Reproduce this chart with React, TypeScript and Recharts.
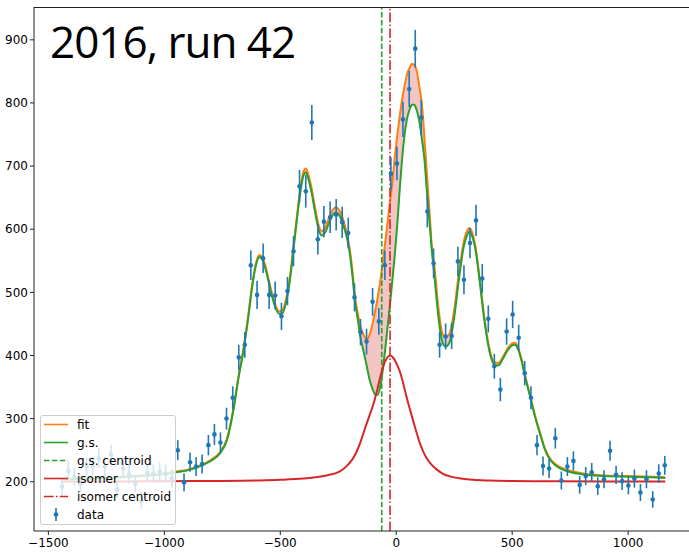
import {
  ComposedChart,
  XAxis,
  YAxis,
  Line,
  Area,
  Scatter,
  ErrorBar,
} from "recharts";

// sampled curve positions (fit and g.s. share them)
const curveX = [
  -1445, -1300, -1200, -1100, -1000, -950, -900, -850, -800, -760,
  -730, -700, -680, -660, -640, -620, -605, -590, -575, -560,
  -545, -525, -505, -490, -475, -460, -445, -430, -415, -400,
  -390, -380, -365, -350, -335, -322, -305, -290, -275, -260,
  -245, -230, -215, -202, -190, -179, -165, -154, -140, -127,
  -115, -101, -90, -79, -68, -57, -46, -29, -15, -7,
  5, 15, 25, 36, 47, 58, 68, 78, 87, 100,
  108, 116, 123, 130, 137, 145, 152, 165, 180, 200,
  214, 230, 250, 270, 290, 305, 317, 330, 345, 360,
  380, 400, 420, 440, 460, 480, 500, 512, 525, 540,
  555, 577, 600, 620, 642, 665, 690, 735, 800, 900,
  1000, 1100, 1160,
];

const gsY = [
  204, 205, 206.5, 209, 212, 215, 218, 224, 233, 245,
  266, 318, 365, 405, 455, 512, 543, 556, 550, 532,
  508, 480, 466, 467, 484, 515, 562, 610, 655, 685,
  690, 681, 658, 627, 600, 590, 596, 610, 622, 627,
  622, 608, 590, 566, 530, 490, 455, 428, 405, 383,
  362, 346, 338, 338, 352, 380, 415, 474, 525, 556,
  610, 663, 710, 750, 776, 790, 797, 797, 790, 770,
  750, 728, 705, 670, 638, 605, 572, 525, 467, 420,
  414, 421, 460, 520, 570, 590, 596, 586, 560, 517,
  456, 410, 387, 384, 395, 408, 416, 417, 410, 392,
  367, 335, 301, 276, 250, 234, 225, 217, 212, 209,
  208, 207, 206,
];

const fitY = [
  204.5, 205.5, 207, 210, 213, 216, 219, 225.5, 234.5, 247,
  268, 320, 367, 408, 458, 515, 546, 559, 554, 536,
  512, 484, 470, 472, 489, 520, 567, 615, 661, 691,
  696, 688, 665, 634, 607, 597, 604, 618, 630, 635,
  630, 617, 597, 572, 538, 496, 465, 446, 432, 425,
  433, 452, 472, 494, 520, 552, 584, 637, 680, 711,
  750, 779, 805, 827, 846, 856, 862, 860, 853, 825,
  806, 775, 737, 700, 663, 620, 580, 540, 482, 434,
  429, 435, 472, 530, 578, 597, 602, 592, 565, 521,
  460, 414, 391, 388, 398, 411, 419, 420, 413, 395,
  370, 337, 303, 278, 252, 236, 227, 219, 213.5, 210,
  209, 208, 207,
];

const isoX = [
  -1445, -1200, -1000, -800, -600, -500, -400, -350, -300, -245,
  -216, -190, -173, -155, -137, -120, -101, -85, -72, -55,
  -40, -26, -10, 5, 15, 30, 44, 58, 72, 86,
  101, 115, 130, 150, 173, 200, 231, 280, 332, 400,
  500, 700, 900, 1160,
];

const isoY = [
  200.3, 200.5, 200.8, 201.2, 202, 203, 205, 207, 210, 216,
  224, 235, 246, 262, 282, 300, 320, 341, 361, 384,
  396, 400, 395, 384, 375, 356, 335, 316, 298, 280,
  262, 249, 238, 228, 220, 213, 208.5, 205, 203, 202,
  201.3, 200.8, 200.5, 200.4,
];

const dataX = [
  -1441, -1414, -1388, -1362, -1335, -1309, -1283, -1257, -1230, -1204,
  -1178, -1152, -1125, -1099, -1073, -1047, -1020, -994, -968, -942,
  -915, -889, -863, -837, -810, -784, -758, -732, -705, -679,
  -653, -627, -600, -574, -548, -522, -495, -469, -443, -417,
  -390, -364, -338, -312, -285, -259, -233, -207, -180, -154,
  -128, -102, -75, -49, -23, 3, 29, 56, 82, 108,
  134, 161, 187, 213, 239, 266, 292, 318, 344, 371,
  397, 423, 449, 476, 502, 528, 554, 581, 607, 633,
  659, 686, 712, 738, 764, 791, 817, 843, 869, 896,
  922, 948, 974, 1001, 1027, 1053, 1079, 1106, 1132, 1158,
];

const dataY = [
  192, 217, 208, 197, 224, 224, 237, 224, 243, 188,
  221, 212, 197, 170, 214, 213, 216, 213, 205, 250,
  199, 231, 224, 228, 258, 275, 262, 300, 333, 397,
  417, 543, 496, 554, 496, 495, 462, 502, 565, 668,
  660, 769, 584, 612, 619, 623, 611, 594, 492, 437,
  422, 485, 454, 543, 688, 704, 774, 822, 886, 777,
  628, 546, 417, 430, 431, 549, 520, 578, 614, 522,
  458, 383, 346, 438, 465, 428, 372, 333, 258, 225,
  221, 269, 202, 224, 233, 195, 209, 215, 193, 204,
  249, 211, 201, 194, 205, 183, 204, 172, 213, 226,
];

const dataErr = [
  13.9, 14.7, 14.4, 14.0, 15.0, 15.0, 15.4, 15.0, 15.6, 13.7,
  14.9, 14.6, 14.0, 13.0, 14.6, 14.6, 14.7, 14.6, 14.3, 15.8,
  14.1, 15.2, 15.0, 15.1, 16.1, 16.6, 16.2, 17.3, 18.2, 19.9,
  20.4, 23.3, 22.3, 23.5, 22.3, 22.2, 21.5, 22.4, 23.8, 25.8,
  25.7, 27.7, 24.2, 24.7, 24.9, 25.0, 24.7, 24.4, 22.2, 20.9,
  20.5, 22.0, 21.3, 23.3, 26.2, 26.5, 27.8, 28.7, 29.8, 27.9,
  25.1, 23.4, 20.4, 20.7, 20.8, 23.4, 22.8, 24.0, 24.8, 22.8,
  21.4, 19.6, 18.6, 20.9, 21.6, 20.7, 19.3, 18.2, 16.1, 15.0,
  14.9, 16.4, 14.2, 15.0, 15.3, 14.0, 14.5, 14.7, 13.9, 14.3,
  15.8, 14.5, 14.2, 13.9, 14.3, 13.5, 14.3, 13.1, 14.6, 15.0,
];

const gsCentroid = -62.5;
const isoCentroid = -26.7;

const xTicks = [-1500, -1000, -500, 0, 500, 1000];
const yTicks = [200, 300, 400, 500, 600, 700, 800, 900];
const X_DOMAIN: [number, number] = [-1562, 1353];
const Y_DOMAIN: [number, number] = [122, 952];

const C_FIT = "#ff7f0e";
const C_GS = "#2ca02c";
const C_ISO = "#d62728";
const C_DATA = "#1f77b4";

const fmt = (v: number) => (v < 0 ? `\u2212${Math.abs(v)}` : `${v}`);
const tickStyle = { fontFamily: "DejaVu Sans", fontSize: 12, fill: "#000" };

const gsData = curveX.map((x, i) => ({ x, y: gsY[i] }));
const fitData = curveX.map((x, i) => ({ x, y: fitY[i] }));
const fillData = curveX.map((x, i) => ({ x, r: [gsY[i], fitY[i]] }));
const isoData = isoX.map((x, i) => ({ x, y: isoY[i] }));
const points = dataX.map((x, i) => ({ x, y: dataY[i], err: dataErr[i] }));
// axvline-style centroid markers, spanning the whole y range
const gsLine = Y_DOMAIN.map((y) => ({ x: gsCentroid, y }));
const isoLine = Y_DOMAIN.map((y) => ({ x: isoCentroid, y }));

const legendRows = [
  { label: "fit", color: C_FIT, dash: undefined as string | undefined },
  { label: "g.s.", color: C_GS, dash: undefined },
  { label: "g.s. centroid", color: C_GS, dash: "5.5 2.4" },
  { label: "isomer", color: C_ISO, dash: undefined },
  { label: "isomer centroid", color: C_ISO, dash: "9.6 2.4 1.5 2.4" },
];

function PlotLegend() {
  return (
    <div
      style={{
        position: "absolute",
        left: 40,
        top: 415,
        width: 136,
        height: 110,
        boxSizing: "border-box",
        background: "rgba(255,255,255,0.8)",
        border: "1px solid #cccccc",
        borderRadius: 3,
      }}
    >
      <svg width={136} height={110} style={{ position: "absolute", left: -1, top: -1 }}>
        {legendRows.map((r, i) => {
          const cy = 9.5 + i * 18;
          return (
            <g key={r.label}>
              <line x1={4} x2={28} y1={cy} y2={cy} stroke={r.color} strokeWidth={1.6} strokeDasharray={r.dash} />
              <text x={37} y={cy} dominantBaseline="central" fontFamily="DejaVu Sans" fontSize={12} fill="#000">
                {r.label}
              </text>
            </g>
          );
        })}
        <line x1={16} x2={16} y1={93} y2={106} stroke={C_DATA} strokeWidth={1.6} />
        <circle cx={16} cy={99.5} r={2.3} fill={C_DATA} />
        <text x={37} y={99.5} dominantBaseline="central" fontFamily="DejaVu Sans" fontSize={12} fill="#000">
          data
        </text>
      </svg>
    </div>
  );
}

export default function App() {
  // plot area runs past the right edge of the picture, as in the reference crop
  return (
    <div style={{ position: "absolute", left: 0, top: 0, width: 689, height: 552, background: "#fff", overflow: "hidden" }}>
      <ComposedChart width={710} height={552} margin={{ top: 7, right: 0, bottom: 0, left: 0 }}>
        <XAxis
          type="number"
          dataKey="x"
          domain={X_DOMAIN}
          ticks={xTicks}
          allowDataOverflow
          height={21}
          tickSize={4}
          tickMargin={3}
          tickFormatter={fmt}
          tick={tickStyle}
          stroke="#222"
          tickLine={{ stroke: "#222" }}
        />
        <YAxis
          type="number"
          dataKey="y"
          domain={Y_DOMAIN}
          ticks={yTicks}
          allowDataOverflow
          width={34}
          tickSize={4}
          tickMargin={2}
          tick={tickStyle}
          stroke="#222"
          tickLine={{ stroke: "#222" }}
        />
        <Area
          data={fillData}
          dataKey="r"
          type="monotone"
          fill={C_ISO}
          fillOpacity={0.27}
          stroke="none"
          isAnimationActive={false}
          activeDot={false}
        />
        <Line data={fitData} dataKey="y" type="monotone" stroke={C_FIT} strokeWidth={2} dot={false} activeDot={false} isAnimationActive={false} />
        <Line data={gsData} dataKey="y" type="monotone" stroke={C_GS} strokeWidth={2} dot={false} activeDot={false} isAnimationActive={false} />
        <Line data={gsLine} dataKey="y" type="linear" stroke={C_GS} strokeWidth={1.6} strokeDasharray="5.5 2.4" dot={false} activeDot={false} isAnimationActive={false} />
        <Line data={isoData} dataKey="y" type="monotone" stroke={C_ISO} strokeWidth={2} dot={false} activeDot={false} isAnimationActive={false} />
        <Line data={isoLine} dataKey="y" type="linear" stroke={C_ISO} strokeWidth={1.6} strokeDasharray="9.6 2.4 1.5 2.4" dot={false} activeDot={false} isAnimationActive={false} />
        <Scatter
          data={points}
          dataKey="y"
          fill={C_DATA}
          isAnimationActive={false}
          shape={(p: any) => <circle cx={p.cx} cy={p.cy} r={2.3} fill={C_DATA} />}
        >
          <ErrorBar dataKey="err" direction="y" width={0} stroke={C_DATA} strokeWidth={1.6} />
        </Scatter>
      </ComposedChart>
      {/* keep the cropped right edge of the plot clean */}
      <div style={{ position: "absolute", left: 682, top: 8, width: 7, height: 522, background: "#fff" }} />
      {/* top spine */}
      <div style={{ position: "absolute", left: 34, top: 6.5, width: 676, height: 1, background: "#222" }} />
      <div
        style={{
          position: "absolute",
          left: 50,
          top: 19,
          fontFamily: "Open Sans",
          fontSize: 44,
          lineHeight: "44px",
          letterSpacing: -1,
          color: "#000",
          whiteSpace: "nowrap",
        }}
      >
        2016, run 42
      </div>
      <PlotLegend />
    </div>
  );
}
